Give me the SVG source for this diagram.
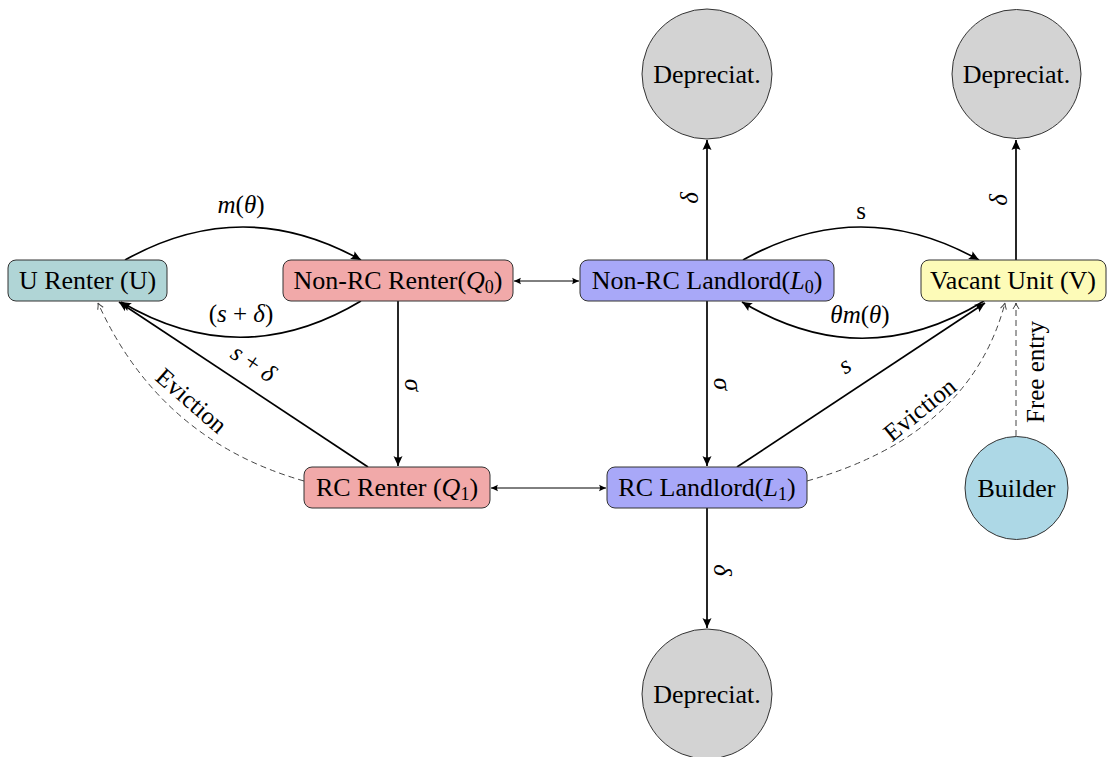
<svg xmlns="http://www.w3.org/2000/svg" width="1107" height="757" viewBox="0 0 1107 757">
<style>
  text { font-family: "Liberation Serif", "DejaVu Serif", serif; fill: #000; }
  .lbl { font-size: 26px; text-anchor: middle; }
  .elbl { font-size: 25px; text-anchor: middle; }
  .box { stroke: #333; stroke-width: 1; }
  .circ { stroke: #333; stroke-width: 1; }
  .e { fill: none; stroke: #000; stroke-width: 1.7; }
  .t { fill: none; stroke: #000; stroke-width: 1; }
  .d { fill: none; stroke: #444; stroke-width: 1; stroke-dasharray: 6 4; }
  .i { font-style: italic; }
</style>
<defs>
  <marker id="ah" markerUnits="userSpaceOnUse" markerWidth="14" markerHeight="12" viewBox="-11 -6 12 12" refX="0" refY="0" orient="auto">
    <path d="M0,0 L-10,-4.5 Q-7,0 -10,4.5 Z" fill="#000"/>
  </marker>
  <marker id="ahs" markerUnits="userSpaceOnUse" markerWidth="10" markerHeight="10" viewBox="-8 -5 9 10" refX="0" refY="0" orient="auto-start-reverse">
    <path d="M0,0 L-7,-3.2 Q-5,0 -7,3.2 Z" fill="#000"/>
  </marker>
  <marker id="ahd" markerUnits="userSpaceOnUse" markerWidth="10" markerHeight="10" viewBox="-8 -5 9 10" refX="0" refY="0" orient="auto">
    <path d="M-6,-3 Q-2,-0.5 0,0 Q-2,0.5 -6,3" fill="none" stroke="#444" stroke-width="1"/>
  </marker>
</defs>

<g id="connectors">
  <path class="e" d="M125,260 Q243,194 361,260" marker-end="url(#ah)"/>
  <text class="elbl" x="241" y="213"><tspan class="i">m</tspan>(<tspan class="i">θ</tspan>)</text>
  <path class="e" d="M361,301 Q241,373 121,302" marker-end="url(#ah)"/>
  <text class="elbl" x="241" y="322">(<tspan class="i">s</tspan> + <tspan class="i">δ</tspan>)</text>
  <line class="t" x1="514" y1="281" x2="579" y2="281" marker-start="url(#ahs)" marker-end="url(#ahs)"/>
  <line class="e" x1="398" y1="301" x2="398" y2="466" marker-end="url(#ah)"/>
  <text class="elbl i" transform="translate(405,385) rotate(90)" x="0" y="0">σ</text>
  <line class="e" x1="368" y1="467" x2="119" y2="302" marker-end="url(#ah)"/>
  <text class="elbl" transform="translate(249,370) rotate(33.6)" x="0" y="0"><tspan class="i">s</tspan> + <tspan class="i">δ</tspan></text>
  <path class="d" d="M304,481 Q160,440 98,303" marker-end="url(#ahd)"/>
  <text class="elbl" transform="translate(186,407) rotate(41)" x="0" y="0">Eviction</text>
  <line class="t" x1="491" y1="488" x2="606" y2="488" marker-start="url(#ahs)" marker-end="url(#ahs)"/>
  <line class="e" x1="707" y1="260" x2="707" y2="140" marker-end="url(#ah)"/>
  <text class="elbl i" transform="translate(698,198) rotate(-90)" x="0" y="0">δ</text>
  <line class="e" x1="707" y1="301" x2="707" y2="466" marker-end="url(#ah)"/>
  <text class="elbl i" transform="translate(714,384) rotate(90)" x="0" y="0">σ</text>
  <line class="e" x1="707" y1="508" x2="707" y2="628" marker-end="url(#ah)"/>
  <text class="elbl i" transform="translate(714,570) rotate(90)" x="0" y="0">δ</text>
  <line class="e" x1="1016" y1="260" x2="1016" y2="140" marker-end="url(#ah)"/>
  <text class="elbl i" transform="translate(1007,200) rotate(-90)" x="0" y="0">δ</text>
  <path class="e" d="M743,260 Q861,194 979,260" marker-end="url(#ah)"/>
  <text class="elbl" x="861" y="219">s</text>
  <path class="e" d="M984,301 Q863,375 742,302" marker-end="url(#ah)"/>
  <text class="elbl" x="860" y="323"><tspan class="i">θm</tspan>(<tspan class="i">θ</tspan>)</text>
  <line class="e" x1="737" y1="467" x2="985" y2="303" marker-end="url(#ah)"/>
  <text class="elbl i" transform="translate(849,372) rotate(-33.5)" x="0" y="0">s</text>
  <path class="d" d="M807,481 Q970,435 1005,303" marker-end="url(#ahd)"/>
  <text class="elbl" transform="translate(925,416) rotate(-39)" x="0" y="0">Eviction</text>
  <line class="d" x1="1016" y1="436" x2="1016" y2="303" marker-end="url(#ahd)"/>
  <text class="elbl" font-size="26" transform="translate(1044,372) rotate(-90)" x="0" y="0">Free entry</text>
</g>

<g id="node-U">
  <rect class="box" x="8" y="260" width="159" height="41" rx="8" fill="#b0d5d6"/>
  <text class="lbl" x="87.5" y="289">U Renter (U)</text>
</g>
<g id="node-Q0">
  <rect class="box" x="283" y="260" width="230" height="41" rx="8" fill="#f1a9a9"/>
  <text class="lbl" x="398" y="289">Non-RC Renter(<tspan class="i">Q</tspan><tspan font-size="18" dy="4">0</tspan><tspan dy="-4">)</tspan></text>
</g>
<g id="node-L0">
  <rect class="box" x="580" y="260" width="254" height="41" rx="8" fill="#a8a8f8"/>
  <text class="lbl" x="707" y="289">Non-RC Landlord(<tspan class="i">L</tspan><tspan font-size="18" dy="4">0</tspan><tspan dy="-4">)</tspan></text>
</g>
<g id="node-V">
  <rect class="box" x="921" y="260" width="185" height="41" rx="8" fill="#fdfbb8"/>
  <text class="lbl" x="1013" y="289">Vacant Unit (V)</text>
</g>
<g id="node-Q1">
  <rect class="box" x="304" y="467" width="186" height="41" rx="8" fill="#f1a9a9"/>
  <text class="lbl" x="397" y="496">RC Renter (<tspan class="i">Q</tspan><tspan font-size="18" dy="4">1</tspan><tspan dy="-4">)</tspan></text>
</g>
<g id="node-L1">
  <rect class="box" x="607" y="467" width="200" height="41" rx="8" fill="#a8a8f8"/>
  <text class="lbl" x="707" y="496">RC Landlord(<tspan class="i">L</tspan><tspan font-size="18" dy="4">1</tspan><tspan dy="-4">)</tspan></text>
</g>
<g id="node-D0">
  <circle class="circ" cx="707" cy="74" r="65" fill="#d3d3d3"/>
  <text class="lbl" x="707" y="83">Depreciat.</text>
</g>
<g id="node-DV">
  <circle class="circ" cx="1016.5" cy="74" r="64.5" fill="#d3d3d3"/>
  <text class="lbl" x="1016.5" y="83">Depreciat.</text>
</g>
<g id="node-D1">
  <circle class="circ" cx="707" cy="694" r="65" fill="#d3d3d3"/>
  <text class="lbl" x="707" y="703">Depreciat.</text>
</g>
<g id="node-B">
  <circle class="circ" cx="1016.5" cy="488" r="51.5" fill="#add8e6"/>
  <text class="lbl" x="1016.5" y="497">Builder</text>
</g>
</svg>
